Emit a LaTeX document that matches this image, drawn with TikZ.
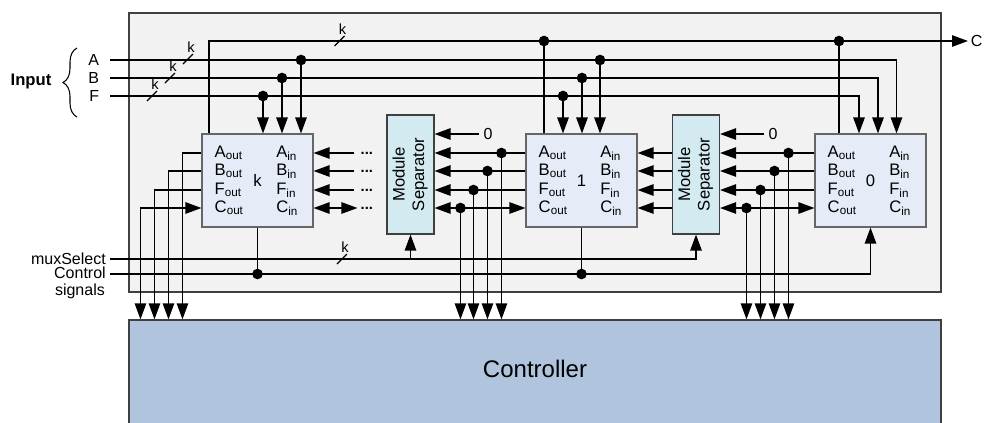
\documentclass[tikz,border=0pt]{standalone}
\usepackage{fontspec}
\setmainfont{Liberation Sans}
\usepackage{graphicx}
\usetikzlibrary{arrows.meta, calc, decorations.pathreplacing}

\definecolor{framegray}{RGB}{242,242,242}
\definecolor{blockblue}{RGB}{229,236,247}
\definecolor{sepcyan}{RGB}{210,234,240}
\definecolor{ctrlblue}{RGB}{176,196,222}
\definecolor{edgegray}{RGB}{64,64,64}

\tikzset{
  busk/.pic={
    \draw[line width=0.9pt] (-5,5) -- (5,-5);
    \node[inner sep=0pt, font=\fontsize{11}{12}\selectfont] (-k) at (3,-12) {k};
  }
}

\begin{document}
\begin{tikzpicture}[
  x=0.75pt, y=-0.75pt,
  font=\fontsize{12}{14}\selectfont,
  >={Triangle[length=12pt, width=8.5pt]},
  frame/.style={draw=edgegray, fill=framegray, line width=0.9pt,
    minimum width=609pt, minimum height=209.25pt},
  ctrl/.style={draw=edgegray, fill=ctrlblue, line width=0.9pt,
    minimum width=609pt, minimum height=82.5pt},
  block/.style={draw=edgegray!80, fill=blockblue, line width=0.8pt,
    minimum width=83.25pt, minimum height=69.75pt,
    font=\fontsize{12.5}{14}\selectfont},
  modsep/.style={draw=edgegray, fill=sepcyan, line width=0.8pt,
    minimum width=35.25pt, minimum height=89.25pt, inner sep=0pt,
    font=\fontsize{12.5}{14.5}\selectfont},
  port/.style={anchor=west, inner sep=0pt, font=\fontsize{12.5}{14}\selectfont},
  more/.style={anchor=west, inner sep=0pt, font=\bfseries\fontsize{11}{12}\selectfont},
  wire/.style={line width=1.2pt},
  arrow/.style={wire, ->},
  biarrow/.style={wire, <->},
  dot/.style={circle, fill, inner sep=0pt, minimum size=8pt},
]
\useasboundingbox (0,0) rectangle (984,422);

% frame and controller
\node[frame] (frame) at (535,152.5) {};
\node[ctrl] (ctrl) at (535,375) {};
\node[font=\fontsize{18}{20}\selectfont] (ctrltext) at (535,369) {Controller};

% rows of the block ports
\coordinate (rowA) at (0,153);
\coordinate (rowB) at (0,171);
\coordinate (rowF) at (0,190);
\coordinate (rowC) at (0,208);

% blocks and separators
\node[block] (bk) at (257.5,180.5) {k};
\node[block] (b1) at (581.5,180.5) {1};
\node[block] (b0) at (870.5,180.5) {0};
\node[modsep] (sep1) at (410.5,174.5)
  {\rotatebox{90}{\begin{tabular}{@{}c@{}}Module\\Separator\end{tabular}}};
\node[modsep] (sep2) at (696,174.5)
  {\rotatebox{90}{\begin{tabular}{@{}c@{}}Module\\Separator\end{tabular}}};

\foreach \b in {bk,b1,b0}{
  \foreach \s in {A,B,F,C}{
    \node[port] (\b-\s-out) at ($(\b.west |- row\s)+(13,0)$) {\s\textsubscript{out}};
    \node[port] (\b-\s-in) at ($(\b.center |- row\s)+(18.5,0)$) {\s\textsubscript{in}};
  }
}

% inputs
\node[anchor=east, inner xsep=8pt] (labA) at (110,60) {A};
\node[anchor=east, inner xsep=8pt] (labB) at (110,78) {B};
\node[anchor=east, inner xsep=8pt] (labF) at (110,96) {F};
\draw[decorate, decoration={brace, amplitude=10.5pt}, line width=0.8pt] (77,117) -- (77,48);
\node[font=\bfseries\fontsize{12.5}{14}\selectfont] (input) at (31,81) {Input};

\draw[arrow] (labA.east) -| ($(b0.north)+(26,0)$);
\draw[arrow] (labB.east) -| ($(b0.north)+(7.5,0)$);
\draw[arrow] (labF.east) -| ($(b0.north)+(-11.5,0)$);
\foreach \b/\xa/\xb/\xf in {bk/43.5/24.5/5.5, b1/18.5/0.5/-18.5}{
  \foreach \s/\dx in {A/\xa, B/\xb, F/\xf}{
    \coordinate (\b-in\s) at ($(\b.north)+(\dx,0)$);
    \draw[arrow] (\b-in\s |- lab\s.east) node[dot] (\b-top\s) {} -- (\b-in\s);
  }
}
\pic (kA) at (188,59) {busk};
\pic (kB) at (170,78) {busk};
\pic (kF) at (152,96) {busk};

% C output
\node[anchor=west, inner sep=2pt] (outC) at (968,41) {C};
\coordinate (bk-C) at ($(bk.north)+(-48.5,0)$);
\draw[arrow] (bk-C) |- (outC.west);
\foreach \b/\dx in {b1/-37.5, b0/-31.5}{
  \coordinate (\b-C) at ($(\b.north)+(\dx,0)$);
  \draw[wire] (\b-C) -- (\b-C |- outC.west) node[dot] (\b-Cdot) {};
}
\pic (kC) at (339.5,41) {busk};

% block k to the controller
\foreach \s/\dx in {A/-19, B/-33, F/-47}{
  \draw[arrow] (bk.west |- row\s) -- ++(\dx,0) coordinate (bk-down\s) -- (bk-down\s |- ctrl.north);
}
\draw[biarrow] (bk.west |- rowC) -- ++(-61,0) coordinate (bk-downC) -- (bk-downC |- ctrl.north);

% further modules
\foreach \s in {A,B,F,C}{
  \node[more] (more\s) at ($(sep1.west |- row\s)+(-26,0)$) {...};
}
\foreach \s in {A,B,F}{
  \draw[arrow] ($(more\s.west)+(-6,0)$) -- (bk.east |- row\s);
}
\draw[biarrow] (bk.east |- rowC) -- ($(moreC.west)+(-3,0)$);

% blocks 1 and 0 through the separators
\foreach \b/\m/\xa/\xb/\xf/\xc in {b1/sep1/-24/-38/-52/-65, b0/sep2/-26/-40/-54/-68}{
  \foreach \s/\dx in {A/\xa, B/\xb, F/\xf}{
    \draw[arrow] (\b.west |- row\s) -- (\m.east |- row\s);
    \draw[arrow] ($(\b.west |- row\s)+(\dx,0)$) node[dot] (\b-tap\s) {} -- (\b-tap\s |- ctrl.north);
  }
  \draw[biarrow] (\m.east |- rowC) -- (\b.west |- rowC);
  \draw[arrow] ($(\b.west |- rowC)+(\xc,0)$) node[dot] (\b-tapC) {} -- (\b-tapC |- ctrl.north);
}
\foreach \s in {A,B,F,C}{
  \draw[arrow] (sep2.west |- row\s) -- (b1.east |- row\s);
}

% zero inputs of the separators
\node (zero1) at (488,134) {0};
\node (zero2) at (773,134) {0};
\draw[arrow] (zero1.west) -- (sep1.east |- zero1.west);
\draw[arrow] (zero2.west) -- (sep2.east |- zero2.west);

% control lines
\node[anchor=east, inner xsep=3pt, inner ysep=0pt] (mux) at (110,259) {muxSelect};
\node[anchor=east, inner xsep=3pt, inner ysep=0pt, align=center,
  font=\fontsize{12}{12.75}\selectfont] (ctl) at (110,283) {Control\\signals};
\coordinate (ctlin) at (110,274);
\draw[arrow] (mux.east) -| (sep2.south);
\draw[arrow] (sep1.south |- mux.east) -- (sep1.south);
\pic (kmux) at (342,259) {busk};
\draw[arrow] (ctlin) -| (b0.south);
\foreach \b in {bk,b1}{
  \draw[wire] (\b.south) -- (\b.south |- ctlin) node[dot] (\b-ctl) {};
}
\end{tikzpicture}
\end{document}
